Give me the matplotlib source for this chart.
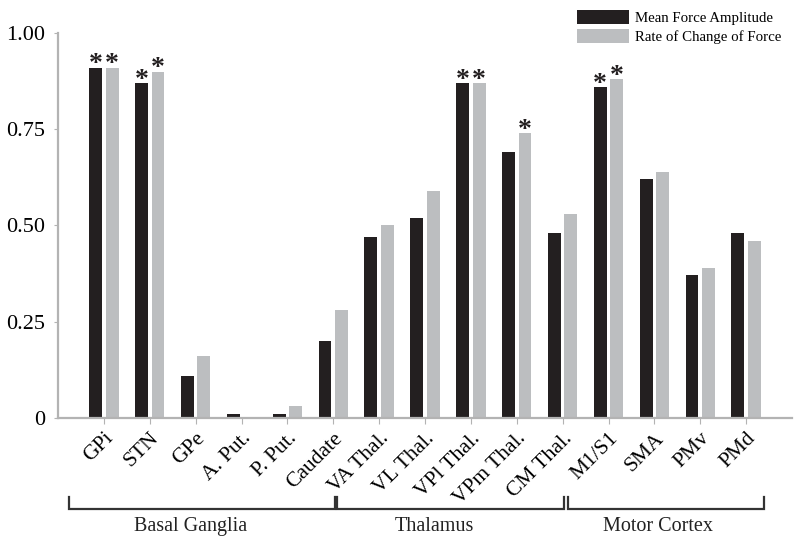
import matplotlib.pyplot as plt
import matplotlib.transforms as mtransforms
import numpy as np

plt.rcParams['font.family'] = ['Liberation Serif', 'DejaVu Serif']

# data
regions = ['GPi', 'STN', 'GPe', 'A. Put.', 'P. Put.', 'Caudate',
           'VA Thal.', 'VL Thal.', 'VPl Thal.', 'VPm Thal.', 'CM Thal.',
           'M1/S1', 'SMA', 'PMv', 'PMd']
mean_force = [0.91, 0.87, 0.11, 0.01, 0.01, 0.20,
              0.47, 0.52, 0.87, 0.69, 0.48,
              0.86, 0.62, 0.37, 0.48]
rate_force = [0.91, 0.90, 0.16, 0.0, 0.03, 0.28,
              0.50, 0.59, 0.87, 0.74, 0.53,
              0.88, 0.64, 0.39, 0.46]
sig_mean = ['GPi', 'STN', 'VPl Thal.', 'M1/S1']
sig_rate = ['GPi', 'STN', 'VPl Thal.', 'VPm Thal.', 'M1/S1']
groups = ['Basal Ganglia', 'Thalamus', 'Motor Cortex']
group_span = [(-0.76, 5.03), (5.08, 10.04), (10.11, 14.4)]
group_label_x = [1.9, 7.2, 12.07]

dark = '#231f20'
light = '#bcbec0'
axis_col = '#b3b3b3'

fig = plt.figure(figsize=(8, 5.42), dpi=100)
ax = fig.add_axes([0.0725, 0.229, 0.9175, 0.71])

x = np.arange(len(regions))
w = 0.28
off = 0.18
b1 = ax.bar(x - off, mean_force, w, color=dark, label='Mean Force Amplitude')
b2 = ax.bar(x + off, rate_force, w, color=light, label='Rate of Change of Force')

for i, r in enumerate(regions):
    if r in sig_mean:
        ax.annotate('*', (x[i] - off, mean_force[i]), xytext=(0, -7),
                    textcoords='offset points', ha='center', va='bottom',
                    fontsize=20, fontweight='bold', color=dark)
    if r in sig_rate:
        ax.annotate('*', (x[i] + off, rate_force[i]), xytext=(0, -7),
                    textcoords='offset points', ha='center', va='bottom',
                    fontsize=20, fontweight='bold', color=dark)

ax.set_xlim(-1, 15)
ax.set_ylim(0, 1)
ax.set_yticks([0, 0.25, 0.5, 0.75, 1.0])
ax.set_yticklabels(['0', '0.25', '0.50', '0.75', '1.00'], fontsize=16)
ax.set_xticks(x)
ax.set_xticklabels(regions, rotation=45, ha='right', rotation_mode='anchor',
                   fontsize=15.5)

for s in ['top', 'right']:
    ax.spines[s].set_visible(False)
for s in ['left', 'bottom']:
    ax.spines[s].set_color(axis_col)
    ax.spines[s].set_linewidth(1.6)
ax.tick_params(axis='y', length=3, color=axis_col, pad=6)
ax.tick_params(axis='x', length=4, color=axis_col, pad=4)

# brackets under the axis
tr = mtransforms.blended_transform_factory(ax.transData, ax.transAxes)
for name, (a, b), lx in zip(groups, group_span, group_label_x):
    ax.plot([a, a, b, b], [-0.205, -0.236, -0.236, -0.205], color='#333333',
            lw=1.6, transform=tr, clip_on=False, solid_joinstyle='miter')
    ax.text(lx, -0.283, name, transform=tr, ha='center', va='center',
            fontsize=14.5, color='#222222')

fig.legend(handles=[b1, b2], loc='upper left', bbox_to_anchor=(0.721, 0.982),
           frameon=False, fontsize=10.7, handlelength=3.5, handleheight=1.05,
           labelspacing=0.3, handletextpad=0.42, borderpad=0, borderaxespad=0)

fig.savefig('out.png', dpi=100)
